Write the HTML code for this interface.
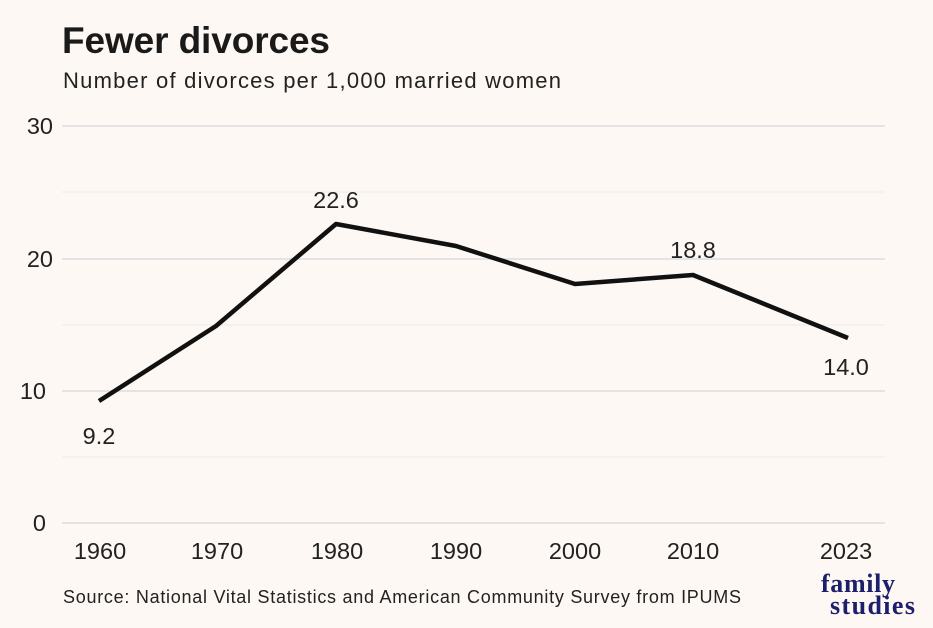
<!DOCTYPE html>
<html><head><meta charset="utf-8"><style>
html,body{margin:0;padding:0;background:#fdf8f3;}
svg{display:block;}
</style></head><body>
<svg width="933" height="628" viewBox="0 0 933 628" xmlns="http://www.w3.org/2000/svg" font-family="Liberation Sans, sans-serif">
<rect width="933" height="628" fill="#fdf8f3"/>
<text x="62" y="53" font-size="37" font-weight="bold" fill="#1a1a1a" textLength="268">Fewer divorces</text>
<text x="63" y="88" font-size="22" fill="#222" textLength="498">Number of divorces per 1,000 married women</text>
<g stroke="#e4e4e6" stroke-width="2">
<line x1="62" x2="885" y1="126" y2="126"/>
<line x1="62" x2="885" y1="259" y2="259"/>
<line x1="62" x2="885" y1="391" y2="391"/>
<line x1="62" x2="885" y1="523" y2="523"/>
</g>
<g stroke="#ececec" stroke-width="1">
<line x1="62" x2="885" y1="192" y2="192"/>
<line x1="62" x2="885" y1="325" y2="325"/>
<line x1="62" x2="885" y1="457" y2="457"/>
</g>
<g font-size="23.5" fill="#222" text-anchor="middle">
<text x="53" y="134" text-anchor="end">30</text>
<text x="53" y="267" text-anchor="end">20</text>
<text x="46" y="399" text-anchor="end">10</text>
<text x="46" y="531" text-anchor="end">0</text>
<text x="100" y="559">1960</text>
<text x="217" y="559">1970</text>
<text x="337" y="559">1980</text>
<text x="456" y="559">1990</text>
<text x="575" y="559">2000</text>
<text x="693" y="559">2010</text>
<text x="846" y="559">2023</text>
<text x="99" y="444">9.2</text>
<text x="336" y="208">22.6</text>
<text x="693" y="258">18.8</text>
<text x="846" y="375">14.0</text>
</g>
<polyline fill="none" stroke="#111" stroke-width="4.5" stroke-linejoin="round" points="99,401 216,326 336,224 456,246 575,284 693,275 848,338"/>
<text x="63" y="603" font-size="18" fill="#222" textLength="678">Source: National Vital Statistics and American Community Survey from IPUMS</text>
<g font-family="Liberation Serif, serif" font-weight="bold" fill="#1c1f6b" font-size="26">
<text x="821" y="592" textLength="74">family</text>
<text x="830" y="614" textLength="85">studies</text>
</g>
</svg>
</body></html>
